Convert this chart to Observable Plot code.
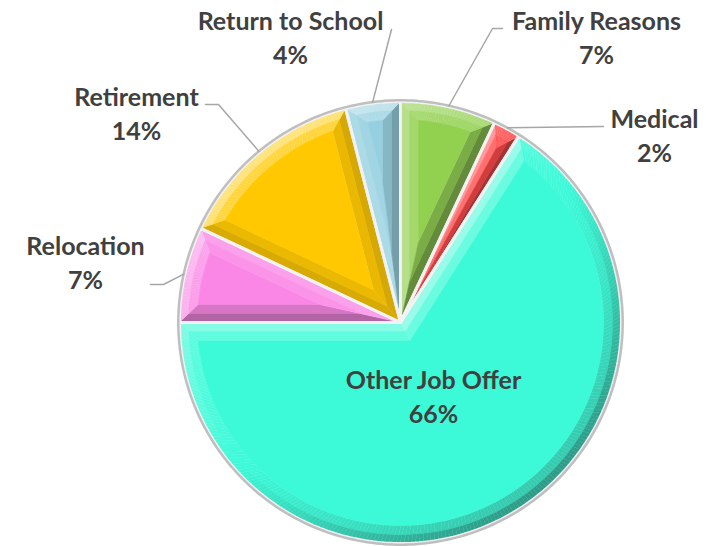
<!DOCTYPE html>
<html><head><meta charset="utf-8">
<script src="https://cdn.jsdelivr.net/npm/d3@7"></script>
<script src="https://cdn.jsdelivr.net/npm/@observablehq/plot@0.6"></script>
<style>html,body{margin:0;padding:0;background:#fff}</style>
</head><body><div id="chart"></div>
<script>
// ---- data ----
const categories = ["Family Reasons", "Medical", "Other Job Offer", "Relocation", "Retirement", "Return to School"];
const values = [7, 2, 66, 7, 14, 4];
const percentLabels = ["7%", "2%", "66%", "7%", "14%", "4%"];
const colors = ["#92d050", "#ff4545", "#3cfad8", "#fa87e6", "#ffc800", "#96d0e0"];

// ---- layout (pixels) ----
const W = 712, H = 546, CX = 400, CY = 322, R = 221, BEVEL = 18;
const labelAt = [
  {px: 596, py: 36, leader: [[502, 28], [492, 28]]},
  {px: 654, py: 134, leader: [[603, 126]]},
  {px: 433, py: 395, leader: null},
  {px: 85, py: 261, leader: [[150, 284], [163, 284]]},
  {px: 136, py: 112, leader: [[205, 104], [218, 104]]},
  {px: 290, py: 36, leader: [[391, 29]]}
];
const toU = px => (px - CX) / R, toV = py => (CY - py) / R;

// ---- geometry ----
const arcs = d3.pie().sort(null).value(d => d)(values);
const dir = (a, r = 1) => [r * Math.sin(a), r * Math.cos(a)];
const mid = (p, q) => [(p[0] + q[0]) / 2, (p[1] + q[1]) / 2];
const d = BEVEL / R;
const L = (() => { const l = [-0.65, 0.76]; const n = Math.hypot(...l); return [l[0] / n, l[1] / n]; })();
function shade(base, n, k) {
  const t = n[0] * L[0] + n[1] * L[1];
  return t >= 0 ? d3.interpolateRgb(base, "#ffffff")(t * 0.5 * k)
                : d3.interpolateRgb(base, "#1a1a1a")(-t * 0.42 * k);
}
const bands = [], inners = [], outlines = [];
let qid = 0;
function addPoly(arr, pts, fill, id) { for (const p of pts) arr.push({id, x: p[0], y: p[1], fill}); }
// quad with edge side (e0,e1) and inner side (i1,i0), split into two strips for a soft bevel
function addBand(base, e0, e1, i1, i0, n) {
  const m0 = mid(e0, i0), m1 = mid(e1, i1);
  addPoly(bands, [e0, e1, m1, m0], shade(base, n, 1), qid++);
  addPoly(bands, [m0, m1, i1, i0], shade(base, n, 0.5), qid++);
}
arcs.forEach((a, i) => {
  const base = colors[i];
  const a0 = a.startAngle, a1 = a.endAngle, th = a1 - a0, h = th / 2, b = a0 + h;
  const N = Math.max(4, Math.ceil(th / (Math.PI / 180)));
  const e = Math.asin(d / (1 - d));
  const s = d / Math.sin(h);
  const collapsed = (th - 2 * e) <= 0 || s >= (1 - d);
  const O = [0, 0];
  const outer = d3.range(N + 1).map(k => dir(a0 + k * th / N));
  let Ap, inner;
  if (!collapsed) {
    Ap = dir(b, s);
    inner = d3.range(N + 1).map(k => dir(a0 + e + k * (th - 2 * e) / N, 1 - d));
  } else {
    Ap = O;
    const M = dir(b, 1 - d * 1.2);
    inner = d3.range(N + 1).map(() => M);
  }
  addBand(base, O, outer[0], inner[0], Ap, [-Math.cos(a0), Math.sin(a0)]);
  addBand(base, outer[N], O, Ap, inner[N], [Math.cos(a1), -Math.sin(a1)]);
  for (let k = 0; k < N; k++) {
    const am = a0 + (k + 0.5) * th / N;
    addBand(base, outer[k], outer[k + 1], inner[k + 1], inner[k], dir(am));
  }
  if (!collapsed) addPoly(inners, [Ap, ...inner], base, i);
  addPoly(outlines, [O, ...outer, O], base, i);
});
const ring = d3.range(361).map(k => { const p = dir(k * Math.PI / 180, 1 + 1.2 / R); return {x: p[0], y: p[1]}; });

const labels = categories.map((c, i) => ({
  text: c + "\n" + percentLabels[i], x: toU(labelAt[i].px), y: toV(labelAt[i].py)
}));
const leaders = [];
arcs.forEach((a, i) => {
  const lay = labelAt[i];
  if (!lay.leader) return;
  const m = (a.startAngle + a.endAngle) / 2;
  const pts = [...lay.leader.map(([px, py]) => [toU(px), toV(py)]), dir(m, 1.005)];
  pts.forEach(p => leaders.push({id: i, x: p[0], y: p[1]}));
});

const chart = Plot.plot({
  width: W, height: H,
  margin: 0,
  x: {domain: [toU(0), toU(W)], range: [0, W], axis: null},
  y: {domain: [toV(H), toV(0)], range: [H, 0], axis: null},
  color: {type: "identity"},
  style: {background: "#fff", overflow: "visible"},
  marks: [
    Plot.line(bands, {x: "x", y: "y", z: "id", fill: "fill", stroke: "fill", strokeWidth: 0.6, curve: "linear"}),
    Plot.line(inners, {x: "x", y: "y", z: "id", fill: "fill", stroke: "fill", strokeWidth: 0.6, curve: "linear"}),
    Plot.line(outlines, {x: "x", y: "y", z: "id", stroke: "#f2f2f2", strokeWidth: 3, strokeLinejoin: "miter", curve: "linear"}),
    Plot.line(ring, {x: "x", y: "y", stroke: "#bfbfbf", strokeWidth: 2.5, curve: "linear"}),
    Plot.line(leaders, {x: "x", y: "y", z: "id", stroke: "#a6a6a6", strokeWidth: 1.5, curve: "linear"}),
    Plot.text(labels, {x: "x", y: "y", text: "text", fill: "#404040", fontSize: 25, fontWeight: "bold",
      fontFamily: "Lato, 'Open Sans', sans-serif", lineHeight: 1.36, textAnchor: "middle"})
  ]
});
document.getElementById("chart").appendChild(chart);
</script>
</body></html>
